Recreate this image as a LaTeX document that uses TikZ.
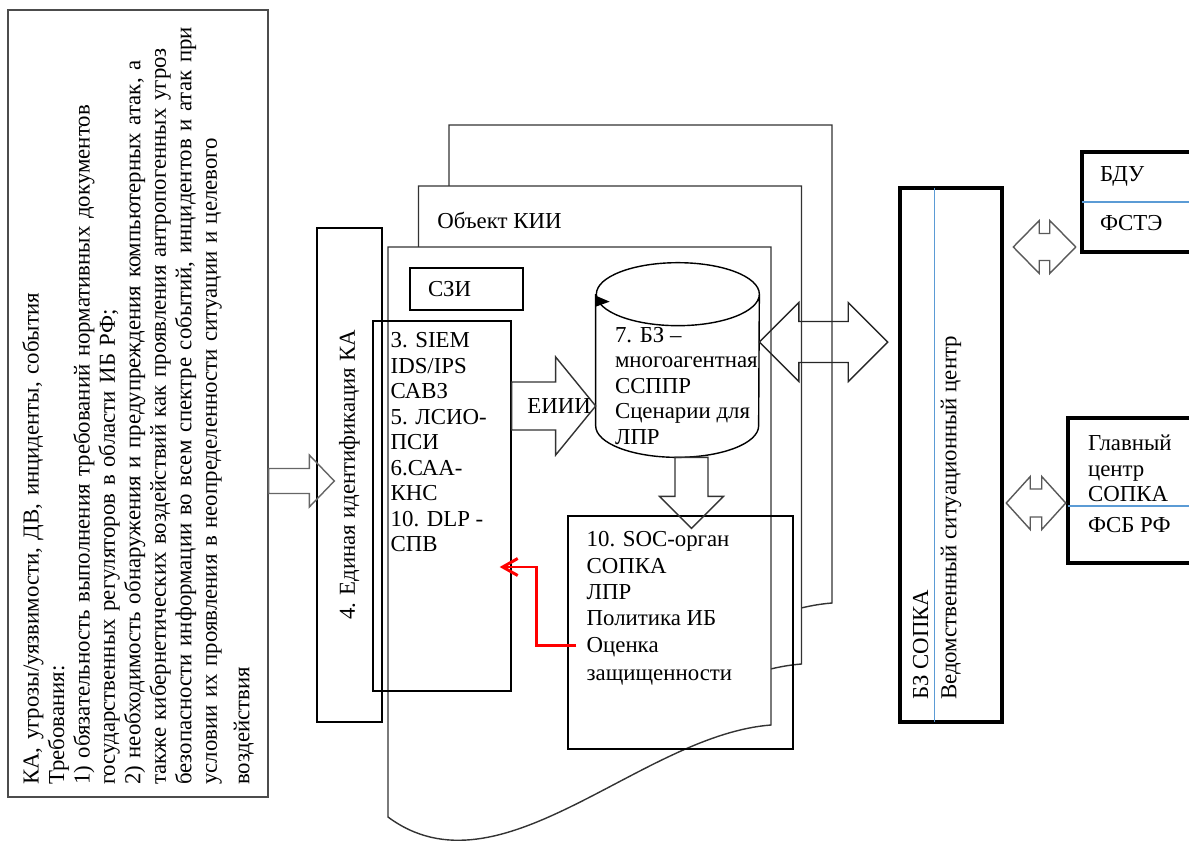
\documentclass[tikz,border=0pt]{standalone}
\usepackage{fontspec}
\setmainfont{Liberation Serif}
\usetikzlibrary{arrows.meta,positioning,calc}
\definecolor{wordblue}{HTML}{5B9BD5}
\tikzset{
  box/.style={draw,line width=0.8pt,inner sep=0pt,font=\fontsize{13}{14.5}\selectfont},
  thickbox/.style={draw,line width=2.6pt,inner sep=0pt},
  txt/.style={inner sep=0pt,align=left,font=\fontsize{13}{14.5}\selectfont},
  page/.style={draw=black!80,line width=0.8pt,fill=white},
  splitline/.style={wordblue,line width=0.6pt,shorten <=1.4pt,shorten >=1.4pt},
  feedback/.style={red,line width=1.7pt,-{Straight Barb[length=3mm,width=3.4mm]}},
  blockarrow/.code n args={3}{%
    \pgfmathsetmacro\fatsd{veclen(#3,#1)}%
    \pgfmathsetmacro\fatsa{atan2(#1,#3)}%
    \pgfmathsetmacro\fathd{veclen(#3,#2)}%
    \pgfmathsetmacro\fatha{atan2(#2,#3)}%
    \tikzset{to path={($(\tikztostart)!#1cm!90:(\tikztotarget)$)
      -- ($(\tikztotarget)!\fatsd cm!-\fatsa:(\tikztostart)$)
      -- ($(\tikztotarget)!\fathd cm!-\fatha:(\tikztostart)$)
      -- (\tikztotarget)
      -- ($(\tikztotarget)!\fathd cm!\fatha:(\tikztostart)$)
      -- ($(\tikztotarget)!\fatsd cm!\fatsa:(\tikztostart)$)
      -- ($(\tikztostart)!#1cm!-90:(\tikztotarget)$) -- cycle}}%
  },
  dblarrow/.code n args={3}{%
    \pgfmathsetmacro\fatsd{veclen(#3,#1)}%
    \pgfmathsetmacro\fatsa{atan2(#1,#3)}%
    \pgfmathsetmacro\fathd{veclen(#3,#2)}%
    \pgfmathsetmacro\fatha{atan2(#2,#3)}%
    \tikzset{to path={(\tikztostart)
      -- ($(\tikztostart)!\fathd cm!\fatha:(\tikztotarget)$)
      -- ($(\tikztostart)!\fatsd cm!\fatsa:(\tikztotarget)$)
      -- ($(\tikztotarget)!\fatsd cm!-\fatsa:(\tikztostart)$)
      -- ($(\tikztotarget)!\fathd cm!-\fatha:(\tikztostart)$)
      -- (\tikztotarget)
      -- ($(\tikztotarget)!\fathd cm!\fatha:(\tikztostart)$)
      -- ($(\tikztotarget)!\fatsd cm!\fatsa:(\tikztostart)$)
      -- ($(\tikztostart)!\fatsd cm!-\fatsa:(\tikztotarget)$)
      -- ($(\tikztostart)!\fathd cm!-\fatha:(\tikztotarget)$)
      -- cycle}}%
  }
}

\begin{document}
\begin{tikzpicture}[x=0.02cm,y=-0.02cm]
  \useasboundingbox (0,0) rectangle (1189,843);
  \clip (0,0) rectangle (1189,843);
  \foreach \k in {2,1,0}
    \draw[page,shift={(\k*30.5,-\k*61)}] (388,247) -- (771,247) -- (771,725)
      .. controls (640,735) and (500,900) .. (388,817) -- cycle;
  \node[txt,anchor=north west] (kii) at (437,212) {Объект КИИ};

  \node[box,rotate=90,draw=black!70,minimum width=15.74cm,minimum height=5.2cm,
    text width=15.26cm,inner xsep=0.24cm,align=left] (req) at (138,403.5)
    {КА, угрозы/уязвимости, ДВ, инциденты, события\\
     Требования:\\
     \makebox[13.56cm][s]{1) обязательность выполнения требований нормативных документов}\\
     государственных регуляторов в области ИБ РФ;\\
     \makebox[14.46cm][s]{2) необходимость обнаружения и предупреждения компьютерных атак, а}\\
     \makebox[14.76cm][s]{также кибернетических воздействий как проявления антропогенных угроз}\\
     \makebox[15.04cm][s]{безопасности информации во всем спектре событий, инцидентов и атак при}\\
     \makebox[12.94cm][s]{условии их проявления в неопределенности ситуации и целевого}\\[4pt]
     воздействия};
  \node[box,rotate=90,minimum width=9.88cm,minimum height=1.3cm] (ident) at (349.5,475)
    {4. Единая идентификация КА};
  \node[box,minimum width=2.26cm,minimum height=0.84cm,text width=1.54cm,
    inner xsep=0.36cm,align=left] (szi) at (466.5,289) {СЗИ};
  \node[box,minimum width=2.76cm,minimum height=7.4cm] (siem) at (442,506) {};
  \node[txt,below right=0.24cm and 0.36cm of siem.north west] (siemtext)
    {3. SIEM\\IDS/IPS\\САВЗ\\5. ЛСИО-\\ПСИ\\6.САА-\\КНС\\10. DLP -\\СПВ};

  \node[inner sep=0pt,minimum width=3.26cm,minimum height=3.88cm] (bz) at (677.5,360) {};
  \draw[line width=0.8pt] ([yshift=-0.63cm]bz.north west) -- ([yshift=0.63cm]bz.south west)
    arc[start angle=180,end angle=360,x radius=1.63cm,y radius=0.63cm]
    -- ([yshift=-0.63cm]bz.north east)
    arc[start angle=0,end angle=180,x radius=1.63cm,y radius=0.63cm]
    arc[start angle=180,end angle=360,x radius=1.63cm,y radius=0.63cm];
  \fill ([yshift=-0.66cm]bz.north west) -- ++(0.28cm,-0.12cm) -- ++(-0.28cm,-0.1cm) -- cycle;
  \node[txt,below right=1.28cm and 0.38cm of bz.north west] (bztext)
    {7. БЗ –\\многоагентная\\ССППР\\Сценарии для\\ЛПР};

  \node[box,minimum width=4.5cm,minimum height=4.66cm] (soc) at (680.5,632.5) {};
  \node[txt,font=\fontsize{13}{15}\selectfont,below right=0.32cm and 0.38cm of soc.north west] (soctext)
    {10. SOC-орган\\СОПКА\\ЛПР\\Политика ИБ\\Оценка\\[1pt]защищенности};

  \node[thickbox,minimum width=2.04cm,minimum height=10.68cm] (sopka) at (951,455) {};
  \draw[splitline] ([xshift=0.74cm]sopka.north west) -- ([xshift=0.74cm]sopka.south west);
  \node[txt,rotate=90,anchor=north west] (sopkatext) at ([shift={(0.3cm,0.48cm)}]sopka.south west)
    {БЗ СОПКА\\[1.5pt]Ведомственный ситуационный центр};

  \node[thickbox,minimum width=2.36cm,minimum height=2cm] (fstek) at (1141,202) {};
  \draw[splitline] (fstek.west) -- (fstek.east);
  \node[txt,below right=0.32cm and 0.4cm of fstek.north west] (fstektext) {БДУ\\[13.8pt]ФСТЭ};

  \node[thickbox,minimum width=2.64cm,minimum height=2.9cm] (glav) at (1134,490.5) {};
  \draw[splitline] ([yshift=-0.31cm]glav.west) -- ([yshift=-0.31cm]glav.east);
  \node[txt,below right=0.38cm and 0.44cm of glav.north west] (glavtext)
    {Главный\\центр\\СОПКА\\[3pt]ФСБ РФ};

  \coordinate (kain) at ([shift={(0.36cm,-0.12cm)}]ident.north);
  \coordinate (kaout) at (req.south |- kain);
  \coordinate (eiiin) at ([yshift=-0.92cm]bz.west);
  \coordinate (eiiiout) at (siem.east |- eiiin);
  \coordinate (socin) at ([shift={(0.22cm,-0.26cm)}]soc.north);
  \coordinate (bzdown) at (bz.south -| socin);
  \coordinate (bzout) at ([yshift=0.36cm]bz.east);
  \coordinate (sopkain) at ($(sopka.west |- bzout)+(-0.2cm,0)$);
  \coordinate (fstekin) at ([shift={(-0.08cm,-0.9cm)}]fstek.west);
  \coordinate (fstekout) at ($(sopka.east |- fstekin)+(0.18cm,0)$);
  \coordinate (glavin) at ([yshift=-0.25cm]glav.west);
  \coordinate (glavout) at ($(sopka.east |- glavin)+(0.04cm,0)$);
  \coordinate (ocenka) at ([shift={(0.18cm,-0.25cm)}]soc.west);
  \coordinate (dlpin) at ([shift={(-0.24cm,-1.22cm)}]siem.east);

  \draw[blockarrow={0.25}{0.52}{0.5},draw=black!60,line width=0.8pt] (kaout) to (kain);
  \draw[blockarrow={0.48}{0.98}{0.8},draw=black!80,line width=0.8pt] (eiiiout) to (eiiin);
  \node[txt,xshift=0.11cm] (eiii) at ($(eiiiout)!0.5!(eiiin)$) {ЕИИИ};
  \draw[blockarrow={0.33}{0.64}{0.64},draw=black!80,line width=0.8pt] (bzdown) to (socin);
  \draw[dblarrow={0.41}{0.79}{0.79},draw=black!85,line width=0.8pt] (bzout) to (sopkain);
  \draw[dblarrow={0.27}{0.53}{0.52},draw=black!65,line width=0.8pt] (fstekout) to (fstekin);
  \draw[dblarrow={0.28}{0.53}{0.48},draw=black!65,line width=0.8pt] (glavout) to (glavin);
  \draw[feedback] (ocenka) -- ++(-0.8cm,0) |- (dlpin);
\end{tikzpicture}
\end{document}
